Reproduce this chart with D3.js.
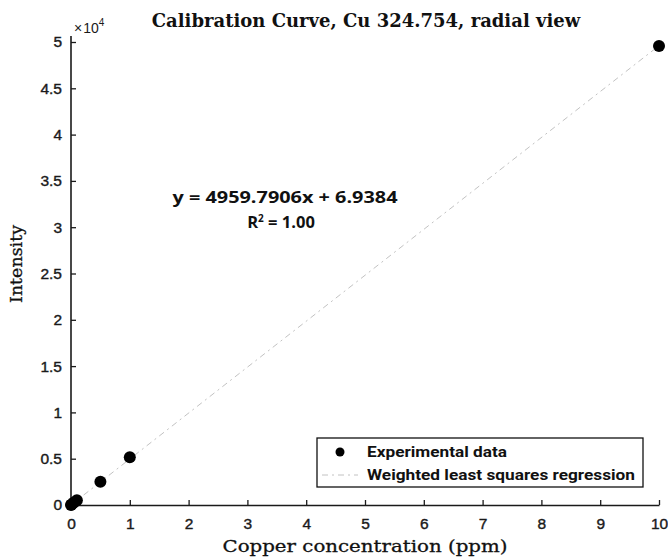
<!DOCTYPE html>
<html>
<head>
<meta charset="utf-8">
<script src="https://cdn.jsdelivr.net/npm/d3@7"></script>
<style>
  html, body { margin: 0; padding: 0; background: #fff; }
  svg { display: block; }
</style>
</head>
<body>
<svg id="chart" width="668" height="558"></svg>
<script>
// Calibration standards (ppm) and measured intensities
const concentrations = [0, 0.01, 0.05, 0.1, 0.5, 1, 10];
const intensities = [5, 55, 260, 520, 2520, 5150, 49580];

// Weighted least squares fit
const slope = 4959.7906;
const intercept = 6.9384;
const fitRange = [0, 10];

const xTicks = [0, 1, 2, 3, 4, 5, 6, 7, 8, 9, 10];
const yTicks = [0, 5000, 10000, 15000, 20000, 25000, 30000, 35000, 40000, 45000, 50000];

const svg = d3.select("#chart");

const x = d3.scaleLinear().domain([0, 10]).range([71, 659]);
const y = d3.scaleLinear().domain([0, 50000]).range([505, 42]);

const tickFont = "'Liberation Sans', Arial, sans-serif";
const ink = "#1a1a1a";

// Axes (left and bottom only, ticks pointing inward)
const xAxis = d3.axisBottom(x).tickValues(xTicks).tickSizeInner(-5).tickSizeOuter(0)
  .tickPadding(13).tickFormat(d3.format("d"));
const gx = svg.append("g").attr("transform", "translate(0,505)").call(xAxis);

const yAxis = d3.axisLeft(y).tickValues(yTicks).tickSizeInner(-5).tickSizeOuter(0)
  .tickPadding(9).tickFormat(d => d3.format("~g")(d / 10000));
const gy = svg.append("g").attr("transform", "translate(71,0)").call(yAxis);

[gx, gy].forEach(g => {
  g.select(".domain").attr("stroke", ink).attr("stroke-width", 1.6);
  g.selectAll(".tick line").attr("stroke", ink).attr("stroke-width", 1.3);
  g.selectAll(".tick text").attr("fill", ink)
    .attr("stroke", ink).attr("stroke-width", 0.4)
    .style("font-family", tickFont).style("font-size", "15.5px");
});
gy.select(".domain").attr("d", `M0,${y(50000) - 6}V505`);

// Exponent label above the y axis
const expo = svg.append("text").attr("x", 74).attr("y", 33)
  .style("font-family", tickFont).style("font-size", "14px").attr("fill", ink);
expo.append("tspan").text("\u00d7");
expo.append("tspan").attr("dx", 1).text("10");
expo.append("tspan").attr("dy", -7).style("font-size", "10px").text("4");

// Regression line
const fitColor = "#c2c2c2";
svg.append("line")
  .attr("x1", x(fitRange[0])).attr("y1", y(intercept + slope * fitRange[0]))
  .attr("x2", x(fitRange[1])).attr("y2", y(intercept + slope * fitRange[1]))
  .attr("stroke", fitColor).attr("stroke-width", 1)
  .attr("stroke-dasharray", "6,4,2,4");

// Data points
svg.append("g").selectAll("circle")
  .data(concentrations.map((c, i) => [c, intensities[i]]))
  .join("circle")
  .attr("cx", d => x(d[0])).attr("cy", d => y(d[1]))
  .attr("r", 6).attr("fill", "#000");

// Title
svg.append("text").attr("x", 366).attr("y", 27).attr("text-anchor", "middle")
  .style("font-family", "'DejaVu Serif', serif").style("font-weight", "bold")
  .style("font-size", "18px").attr("fill", "#111")
  .text("Calibration Curve, Cu 324.754, radial view");

// Axis titles
svg.append("text").attr("x", 365).attr("y", 552).attr("text-anchor", "middle")
  .style("font-family", "'DejaVu Serif', serif").style("font-size", "17px")
  .attr("fill", "#111").attr("stroke", "#111").attr("stroke-width", 0.3)
  .attr("textLength", 285).attr("lengthAdjust", "spacingAndGlyphs")
  .text("Copper concentration (ppm)");

svg.append("text").attr("transform", "translate(22,264) rotate(-90)")
  .attr("text-anchor", "middle")
  .style("font-family", "'DejaVu Serif', serif").style("font-size", "17px")
  .attr("fill", "#111").attr("stroke", "#111").attr("stroke-width", 0.3)
  .attr("textLength", 78).attr("lengthAdjust", "spacingAndGlyphs")
  .text("Intensity");

// Fit equation
const eqFont = "'Open Sans', 'Liberation Sans', sans-serif";
svg.append("text").attr("x", 285).attr("y", 203).attr("text-anchor", "middle")
  .style("font-family", eqFont).style("font-weight", "bold").style("font-size", "16.5px")
  .attr("fill", "#111")
  .attr("textLength", 225).attr("lengthAdjust", "spacingAndGlyphs")
  .text(`y = ${slope.toFixed(4)}x + ${intercept.toFixed(4)}`);
const r2 = svg.append("text").attr("x", 281).attr("y", 228).attr("text-anchor", "middle")
  .style("font-family", eqFont).style("font-weight", "bold").style("font-size", "16.5px")
  .attr("fill", "#111");
r2.append("tspan").text("R");
r2.append("tspan").attr("dy", -6).style("font-size", "10px").text("2");
r2.append("tspan").attr("dy", 6).text(" = 1.00");

// Legend
const lg = svg.append("g");
lg.append("rect").attr("x", 317).attr("y", 438).attr("width", 326).attr("height", 49)
  .attr("fill", "#fff").attr("stroke", "#111").attr("stroke-width", 1.3);
lg.append("circle").attr("cx", 340).attr("cy", 452).attr("r", 4.5).attr("fill", "#000");
lg.append("line").attr("x1", 322).attr("x2", 358).attr("y1", 475).attr("y2", 475)
  .attr("stroke", fitColor).attr("stroke-width", 1).attr("stroke-dasharray", "6,4,2,4");
const legFont = "Roboto, 'DejaVu Sans', sans-serif";
lg.append("text").attr("x", 367).attr("y", 457)
  .style("font-family", legFont).style("font-weight", "bold").style("font-size", "14px")
  .attr("fill", "#111").attr("textLength", 140).attr("lengthAdjust", "spacingAndGlyphs")
  .text("Experimental data");
lg.append("text").attr("x", 367).attr("y", 480)
  .style("font-family", legFont).style("font-weight", "bold").style("font-size", "14px")
  .attr("fill", "#111").attr("textLength", 268).attr("lengthAdjust", "spacingAndGlyphs")
  .text("Weighted least squares regression");
</script>
</body>
</html>
